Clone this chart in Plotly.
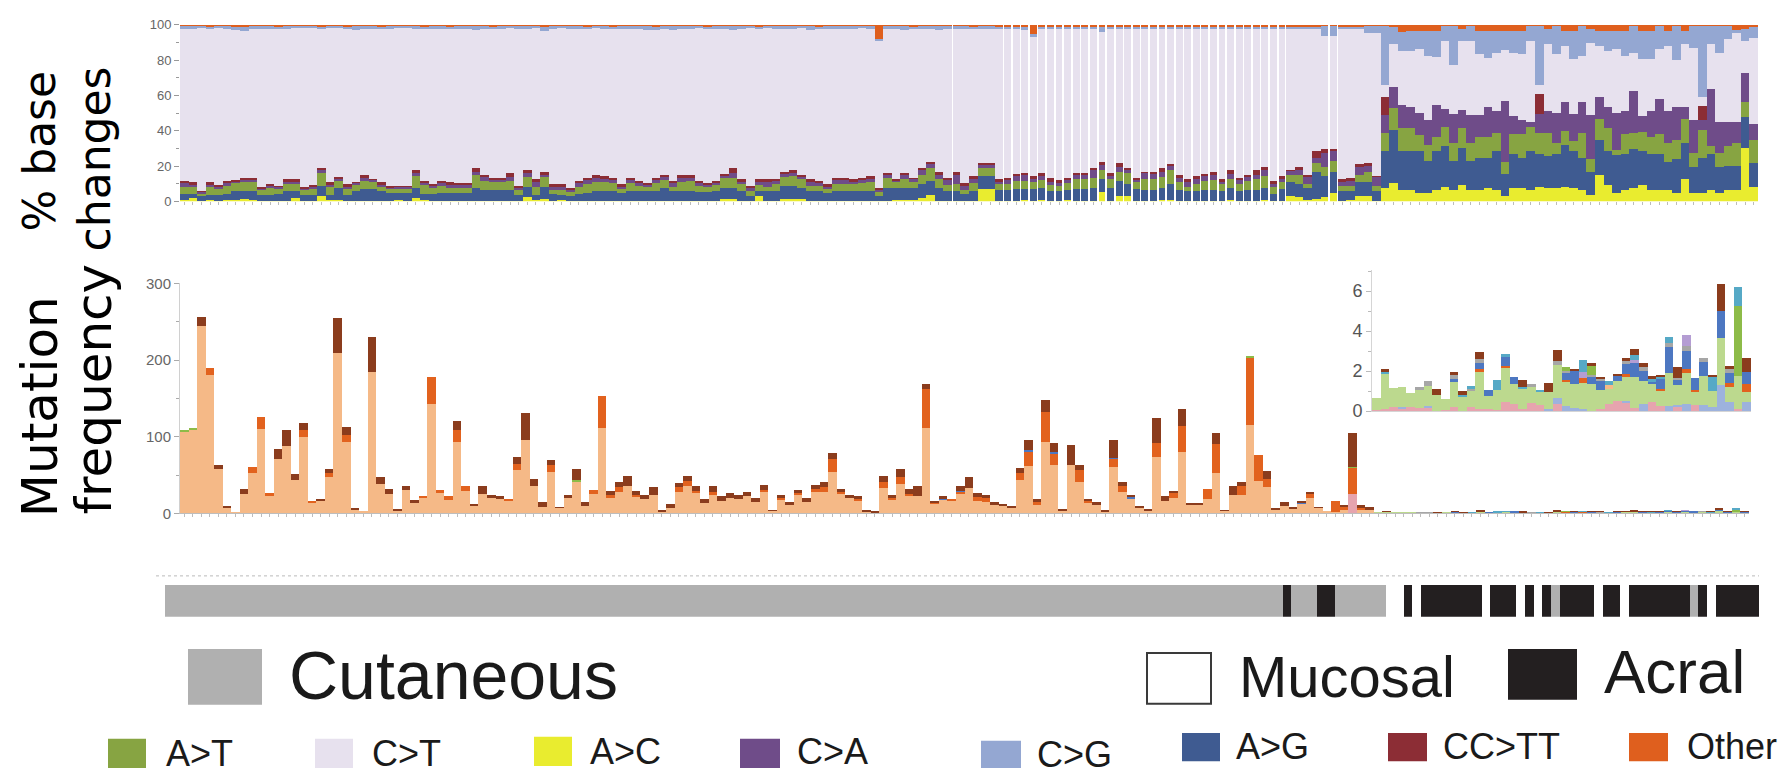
import plotly.graph_objects as go

W, H = 1789, 779
PAGE_OFF = 8          # default body margin of the html page that holds the figure
N_CUT, N_ACR = 140, 44
N = N_CUT + N_ACR

# ---------------- top panel: % base changes (per sample, 184 samples) ----------------
TOP_AC = [1.1,2.0,0.5,0.9,0.5,0.9,0.9,1.6,0.9,0.5,
          0.5,0.5,0.5,2.0,0.5,0.5,2.9,0.9,0.9,0.5,
          0.5,0.5,0.5,0.5,0.5,0.9,0.5,2.0,0.9,0.5,
          0.5,0.5,0.5,0.5,0.5,0.5,0.5,0.5,0.5,0.5,
          2.4,1.1,1.6,0.5,0.9,0.5,0.5,0.5,0.5,0.5,
          0.5,0.5,0.5,0.5,0.5,0.5,0.5,0.5,0.5,0.5,
          0.5,0.5,0.5,1.6,1.6,0.5,0.5,2.9,0.5,0.5,
          1.6,1.6,1.6,0.5,0.5,0.5,0.5,0.5,0.5,0.5,
          0.5,0.5,0.5,1.1,1.1,1.1,2.0,3.8,0.5,0.5,
          0.5,0.5,0.5,7.1,7.1,0.5,0.5,0.5,1.1,0.5,
          1.1,0.5,0.5,1.1,0.5,0.5,0.5,5.3,0.5,2.9,
          2.9,0.5,0.5,0.5,1.1,1.1,0.5,0.5,0.5,0.5,
          0.5,0.5,1.1,0.5,0.5,0.5,1.1,0.5,0.5,2.9,
          2.4,1.1,1.6,2.5,5.0,0.5,1.1,2.9,2.9,0.5,
          7.5,10.6,6.6,6.6,4.8,4.8,6.6,8.4,6.6,9.3,
          6.6,6.6,7.5,6.6,2.9,7.5,7.5,6.6,8.4,7.5,
          7.5,8.4,7.5,6.6,3.8,14.8,9.3,4.8,6.6,7.9,
          9.3,6.6,6.6,6.6,4.8,13.0,4.8,4.8,6.6,4.8,
          6.6,6.6,30.4,8.4]
TOP_AG = [3.1,2.2,2.4,2.9,3.3,3.3,4.8,4.1,5.1,3.3,
          3.3,3.7,5.5,4.0,3.3,3.3,6.1,2.9,6.6,3.3,
          5.2,6.6,6.6,5.2,4.3,3.9,4.3,5.9,3.3,3.7,
          4.3,4.3,4.3,4.3,7.4,6.1,6.1,6.1,6.1,3.3,
          6.0,2.7,6.8,3.7,2.9,2.4,3.7,4.3,5.5,5.5,
          5.2,4.3,5.5,5.2,5.2,5.5,7.4,5.2,5.5,5.5,
          4.8,4.8,5.2,6.3,6.3,5.2,2.4,2.8,5.2,5.2,
          7.4,7.4,6.3,5.5,5.5,4.3,5.2,5.2,5.5,5.5,
          5.5,2.4,7.4,6.8,6.8,6.8,7.7,7.7,7.4,5.5,
          5.5,3.7,5.5,7.4,7.4,6.1,6.1,6.6,6.0,6.6,
          6.4,5.2,5.2,5.5,6.6,6.6,7.0,7.3,7.4,8.6,
          6.8,6.6,6.1,6.1,6.8,8.6,6.1,5.2,5.5,6.1,
          6.1,5.2,6.8,5.5,6.1,6.1,6.8,3.7,6.6,7.9,
          7.3,6.8,15.4,12.0,12.0,5.5,4.9,7.9,7.9,5.5,
          21.1,29.9,22.0,22.0,23.8,18.3,22.0,22.9,16.5,21.1,
          16.5,18.3,17.4,22.0,12.9,19.2,17.4,22.0,18.3,18.3,
          19.2,23.8,21.1,18.3,13.2,20.2,19.3,21.4,20.1,21.6,
          19.3,20.1,20.1,15.6,19.2,20.2,14.6,20.1,20.1,14.6,
          13.7,13.7,17.4,13.4]
TOP_AT = [4.2,4.2,1.9,4.6,3.3,4.8,4.6,5.1,4.8,3.3,
          4.1,3.3,3.7,3.7,2.8,3.7,7.3,4.6,4.4,3.3,
          3.6,4.4,4.1,2.7,2.7,2.7,2.7,6.6,5.1,3.7,
          4.2,3.1,3.1,3.1,7.3,4.9,4.2,4.2,4.9,2.8,
          5.5,4.6,5.5,2.4,2.8,2.8,4.2,4.9,5.2,4.8,
          4.6,2.3,4.3,3.3,2.7,4.3,4.2,2.7,5.2,5.5,
          3.7,3.1,3.6,5.5,5.5,4.0,3.1,3.6,2.7,4.0,
          4.9,5.5,4.7,3.0,3.0,2.3,4.0,4.0,3.7,4.3,
          4.8,2.8,5.5,2.9,5.1,3.3,5.1,7.4,4.7,3.3,
          3.7,2.4,4.3,4.4,4.4,3.1,3.1,4.4,4.4,4.1,
          4.6,3.6,3.6,3.7,5.9,5.9,5.9,5.5,4.7,5.5,
          6.6,3.7,6.0,6.0,6.0,7.9,4.2,2.7,3.7,4.9,
          5.5,4.0,4.7,3.7,4.9,6.0,6.6,4.2,3.7,4.4,
          5.5,1.8,4.8,5.0,6.0,3.0,3.0,4.4,6.2,3.0,
          10.0,12.4,12.8,12.8,9.1,9.1,8.2,11.0,10.1,11.0,
          10.1,11.9,11.9,10.4,6.4,11.4,13.2,13.7,11.9,12.8,
          6.5,7.9,5.5,14.1,7.0,11.9,12.8,3.0,11.4,9.1,
          11.0,10.1,11.4,11.0,11.0,13.7,8.3,15.6,4.6,8.3,
          11.0,12.9,8.6,13.2]
TOP_CA = [2.2,1.3,0.9,0.9,1.3,1.3,1.2,1.3,1.5,0.4,
          1.1,0.9,1.5,1.8,0.9,0.9,1.8,1.3,1.1,1.5,
          1.3,2.1,1.1,1.3,0.7,0.9,1.1,1.8,1.5,1.1,
          1.6,1.4,1.4,1.4,1.8,2.4,1.5,1.5,2.4,1.3,
          2.2,2.4,1.3,1.8,1.8,0.9,1.9,2.4,2.4,2.2,
          1.8,1.3,1.8,1.6,1.3,1.8,1.8,1.9,2.4,2.1,
          1.6,1.3,1.3,1.4,2.9,1.8,1.9,2.2,2.8,2.4,
          1.9,1.8,1.3,2.2,1.6,1.3,2.4,2.4,1.5,1.8,
          2.2,0.9,1.8,1.3,2.2,1.8,2.8,2.3,2.6,2.8,
          5.5,2.4,2.7,1.8,1.8,1.8,2.4,3.3,3.3,1.8,
          2.4,1.9,1.0,1.8,2.2,2.2,4.2,2.6,1.9,2.4,
          1.3,1.8,3.7,3.2,3.1,2.4,2.8,2.8,3.3,3.0,
          2.7,1.5,3.2,2.9,2.4,2.6,3.1,1.3,2.2,2.4,
          2.4,4.2,3.1,8.0,6.0,2.5,2.5,4.2,3.0,4.9,
          10.7,11.8,13.4,11.9,12.3,13.8,18.0,10.0,16.4,10.4,
          16.1,12.5,16.5,12.1,34.8,10.6,7.9,2.8,11.0,12.5,
          16.8,16.3,15.5,17.4,25.3,12.3,11.9,20.8,13.0,24.2,
          9.1,14.3,19.8,18.3,18.3,6.4,18.3,5.5,32.4,17.4,
          13.8,11.9,16.5,9.1]
TOP_CCTT = [1.3,1.1,0.5,1.5,0.8,1.4,0.8,1.5,1.3,0.6,
            0.9,0.6,1.4,1.1,0.7,0.8,0.9,1.1,0.7,1.1,
            0.6,1.6,0.7,1.1,0.6,0.6,0.4,1.6,1.1,0.9,
            0.9,1.5,1.3,1.3,1.9,1.3,1.3,1.3,2.2,1.1,
            1.8,1.8,1.8,1.5,1.5,1.3,1.4,1.3,1.6,1.5,
            1.5,1.3,1.5,1.1,0.9,1.5,1.3,1.4,1.6,1.6,
            1.1,0.9,1.1,1.0,2.6,1.1,1.1,1.1,1.4,0.5,
            1.2,1.8,1.3,1.4,1.1,1.3,1.5,1.5,1.3,1.5,
            1.5,0.9,1.1,0.9,1.1,0.6,1.3,1.3,1.8,1.5,
            1.8,1.3,1.5,1.1,1.1,1.1,1.5,1.0,1.5,1.5,
            1.8,2.4,1.8,1.5,1.1,1.1,1.3,1.8,1.8,2.4,
            1.3,1.0,0.7,1.2,1.9,1.2,1.6,1.4,1.5,1.3,
            2.2,1.4,2.3,1.0,1.3,2.9,1.8,1.8,1.5,0.5,
            1.8,1.3,3.7,2.5,0.5,1.1,2.1,1.8,1.8,0.6,
            9.9,0,0,0,0,0,0,0,0,0,
            0,0,0,0,0,0,0,0,11.4,0,
            0,0,0,0,0,0,0,0,0,0,
            0,0,0,0,0,0,0,8.0,0,0,
            0,0,0,0]
TOP_CG = [1.5,1.5,1.0,1.0,1.0,1.5,2.0,2.5,1.5,1.5,
          1.5,1.5,1.5,1.0,1.0,1.0,1.5,1.0,1.0,1.5,
          2.5,2.0,1.5,1.5,1.5,1.0,1.0,1.5,1.5,1.5,
          1.5,1.5,1.5,2.0,2.5,1.5,1.5,1.5,1.0,1.5,
          1.5,1.0,2.5,1.5,1.0,2.0,1.5,1.5,1.0,1.5,
          1.5,1.5,2.0,1.5,2.5,2.0,1.5,2.5,1.5,1.5,
          1.0,1.5,2.0,1.5,2.5,1.5,1.0,1.5,1.0,1.5,
          1.5,1.5,1.0,2.5,1.5,2.0,1.5,1.5,1.5,1.0,
          1.5,1.0,2.0,1.5,2.5,1.5,1.5,2.0,2.5,1.5,
          1.5,1.5,1.0,1.5,2.0,1.5,1.5,1.0,2.0,2.0,
          1.5,1.5,1.5,1.5,1.5,1.5,1.5,3.0,1.5,1.5,
          1.5,1.5,1.5,1.5,1.5,1.0,1.5,1.5,1.5,1.0,
          1.5,1.5,1.5,1.5,1.5,1.5,1.5,1.0,1.0,1.0,
          1.5,1.5,1.5,6.0,6.0,1.0,1.0,1.5,4.0,4.0,
          33.4,10.0,10.7,11.2,10.2,13.9,14.8,8.7,22.0,7.2,
          8.7,13.0,15.4,12.1,10.6,12.1,13.0,8.7,33.4,9.0,
          16.0,8.5,15.7,16.9,8.1,8.5,11.2,10.2,13.9,15.1,
          15.7,15.7,13.2,8.5,19.6,7.5,12.3,40.3,10.5,15.1,
          7.7,1.6,7.2,6.3]
TOP_OTHER = [0.5,0.5,0.5,0.8,0.5,0.5,0.8,0.8,0.5,0.5,
             0.5,0.8,0.5,0.5,0.5,0.5,0.8,0.5,0.5,0.8,
             0.5,0.5,0.5,0.8,0.5,0.5,0.5,0.5,0.8,0.5,
             0.5,0.8,0.5,0.5,0.5,0.5,0.8,0.5,0.5,0.5,
             0.5,0.5,0.8,0.5,0.5,0.5,0.5,0.8,0.5,0.5,
             0.8,0.5,0.5,0.5,0.5,0.8,0.5,0.5,0.5,0.5,
             0.5,0.8,0.5,0.5,0.5,0.5,0.5,0.8,0.5,0.5,
             0.5,0.5,0.5,0.5,0.8,0.5,0.5,0.5,0.5,0.5,
             0.5,8.0,0.5,0.5,0.5,0.8,0.5,0.5,0.5,0.5,
             0.5,0.5,0.8,0.5,0.5,0.8,0.8,0.8,0.8,5.0,
             0.8,0.8,0.8,0.8,0.8,0.8,0.8,0.8,0.8,0.8,
             0.8,0.8,0.8,0.8,0.8,0.8,0.8,0.8,0.8,0.8,
             0.8,0.8,0.8,0.8,0.8,0.8,0.8,0.8,0.8,0.8,
             1.0,1.0,1.0,0.5,0.5,1.0,1.0,1.0,0.5,0.5,
             0.5,1.0,4.0,3.5,3.5,3.5,3.5,0.5,0.5,2.0,
             0.5,3.5,3.5,3.5,3.5,3.5,3.5,0.5,0.5,2.0,
             0.5,3.5,3.5,0.5,2.0,3.5,3.5,3.5,3.5,0.5,
             3.5,3.5,0.5,3.5,0.5,3.5,0.5,0.5,0.5,0.5,
             0.5,3.0,2.0,1.0]
# samples whose bars are drawn separated by thin white gaps in the original figure
GAP_SAMPLES = [90] + list(range(96, 129)) + [133, 134]

# ---------------- bottom panel: mutation frequency, cutaneous-like samples (140) ----------------
FREQ_PEACH = [107,108,244,180,57,8,2,25,52,110,
              22,70,88,43,99,14,17,47,209,93,
              5,3,184,38,25,4,30,13,20,142,
              26,17,93,29,9,25,20,18,16,56,
              96,35,8,54,7,20,41,10,25,111,
              20,28,35,21,18,24,2,7,27,35,
              26,13,24,16,20,19,22,14,27,3,
              17,11,24,14,27,27,54,25,20,16,
              2,1,33,17,38,22,22,111,13,18,
              16,25,33,16,14,11,10,7,43,62,
              11,93,63,4,63,41,13,11,2,60,
              27,19,8,4,73,16,20,80,11,11,
              18,52,3,24,24,115,42,34,5,9,
              5,13,20,7,3,2,4,0,4,4]
FREQ_ORANGE = [0,0,0,9,0,0,0,0,8,16,
               4,0,0,0,9,2,0,6,0,9,
               0,0,0,0,0,0,0,0,3,36,
               4,5,15,7,0,0,0,0,3,8,
               0,0,0,9,0,0,0,0,5,42,
               4,6,0,3,0,0,0,0,7,7,
               3,0,4,0,0,0,0,0,3,0,
               3,0,2,0,5,7,16,3,0,2,
               0,0,8,3,9,3,0,51,1,0,
               3,3,0,5,6,0,0,0,10,19,
               3,39,15,0,0,15,3,0,0,11,
               8,0,0,0,18,0,6,33,0,0,
               14,38,0,0,12,88,34,11,0,0,
               0,0,6,0,0,14,5,34,3,0]
FREQ_BROWN = [0,0,12,0,6,2,0,6,0,0,
              0,14,20,8,10,0,2,4,45,10,
              1,0,45,9,6,1,5,4,0,0,
              0,0,12,0,3,11,4,4,0,9,
              35,10,6,6,1,4,14,4,0,0,
              5,7,14,5,6,10,2,5,5,7,
              6,5,7,7,6,5,6,6,7,1,
              4,3,4,6,5,6,9,4,4,5,
              1,1,7,4,10,6,14,6,2,4,
              0,6,14,5,4,4,2,3,6,13,
              4,15,11,1,26,7,2,4,1,24,
              6,3,2,1,33,7,3,23,1,2,
              0,15,1,12,5,0,0,10,2,5,
              3,2,2,1,0,0,2,44,4,4]
FREQ_BLUE_SPARSE = {89: 1, 91: 1, 99: 2, 102: 2, 109: 1, 111: 2, 131: 1}
FREQ_GREEN_SPARSE = {0: 2, 1: 3, 46: 2, 125: 2, 137: 1}
FREQ_PINK_SPARSE = {137: 25}

# ---------------- inset: mutation frequency of the 44 acral / mucosal-like samples ----------------
PINK_I = [0.05,0.1,0.2,0.15,0.2,0.15,0.2,0,0.05,0.2,
          0,0.2,0.1,0.1,0.05,0.45,0.35,0.1,0.4,0.3,
          0,0.35,0,0,0,0,0.1,0.35,0.5,0.4,
          0.15,0,0.45,0.25,0,0.2,0,0.3,0,0,
          0,0,0.1,0]
LBLUE_I = [0,0,0,0.05,0,0,0.05,0,0,0,
           0,0,0,0,0,0,0,0,0,0,
           0.1,0.3,0.25,0.15,0.1,0,0,0,0,0.1,
           0,0.35,0,0,0.25,0.1,0.35,0,0.3,0.2,
           1.3,0.45,0,0.45]
LGREEN_I = [0.6,1.75,0.95,1.0,0.7,0.9,1.0,0.8,0.55,1.25,
            0.75,0.85,1.85,0.65,1.0,1.75,1.0,1.0,0.8,0.65,
            0.85,1.65,1.2,1.2,1.3,1.35,0.95,0.75,1.0,1.2,
            1.55,1.15,0.9,0.8,1.65,1.0,1.55,0.7,1.45,0.8,
            2.35,0.75,1.65,0.5]
PEACH_I = [0,0,0,0,0,0,0,0,0,0,
           0,0,0,0,0,0,0,0,0,0,
           0,0,0,0,0,0,0,0.2,0,0,
           0,0,0,0,0,0,0,0,0,0,
           0,0,0,0]
ORANGE_I = [0,0,0,0,0,0,0,0,0,0,
            0,0,0.15,0,0,0.08,0,0,0,0,
            0,0,0.1,0,0.25,0,0,0,0,0.15,
            0,0,0,0.05,0,0,0.2,0.05,0,0,
            0,0.2,0,0.4]
BLUE_I = [0,0,0,0,0,0,0,0,0,0.15,
          0,0,0.3,0.3,0,0.42,0.35,0,0,0,
          0,0,0.35,0.65,0,0.35,0.45,0,0.25,0.5,
          0.7,0.5,0.1,0.5,1.3,0.3,0.9,0.6,0.7,0,
          1.35,0.5,0,0.6]
GREY_I = [0,0,0,0,0,0.15,0.25,0,0,0.2,
          0,0.05,0.2,0,0,0,0,0,0.15,0,
          0,0.2,0.1,0,0,0.1,0.15,0,0,0.15,
          0,0.2,0,0,0.2,0.05,0.25,0,0.2,0,
          0,0.2,0,0]
LAV_I = [0,0,0,0,0,0,0,0,0,0,
         0,0,0,0,0,0,0,0,0,0,
         0,0,0,0,0.3,0,0,0,0,0,
         0.15,0,0,0,0,0,0.55,0,0,0,
         0,0,0,0]
DGREEN_I = [0,0,0,0,0,0,0,0,0,0,
            0,0,0,0,0,0,0,0,0,0,
            0,0,0.2,0,0,0.45,0,0,0,0,
            0,0,0,0,0,0,0,0,0,0,
            0,0,3.5,0]
TEAL_I = [0,0.1,0,0,0,0,0,0,0,0,
          0.05,0.15,0,0,0.5,0.15,0,0.1,0,0.1,
          0,0,0,0,0.6,0,0,0.2,0,0,
          0.25,0,0.15,0.1,0.3,0,0,0,0,0.7,
          0,0,0.95,0]
BROWN_I = [0,0.15,0,0,0,0,0,0.3,0,0.15,
           0.2,0,0.35,0,0,0,0,0.35,0,0,
           0.45,0.55,0,0.1,0,0.15,0.05,0,0.1,0.15,
           0.3,0.2,0.15,0.1,0,0.55,0,0,0,0.1,
           1.35,0.15,0,0.7]

# ---------------- subtype annotation bar (runs of samples) ----------------
SUBTYPE_RUNS = [("Cutaneous",129),("Acral",1),("Cutaneous",3),("Acral",2),("Cutaneous",6),
                ("Mucosal",2),("Acral",1),("Mucosal",1),("Acral",7),("Mucosal",1),("Acral",3),
                ("Mucosal",1),("Acral",1),("Mucosal",1),("Acral",1),("Cutaneous",1),("Acral",4),
                ("Mucosal",1),("Acral",2),("Mucosal",1),("Acral",7),("Cutaneous",1),("Acral",1),
                ("Mucosal",1),("Acral",5)]

for arr in (TOP_AC, TOP_AG, TOP_AT, TOP_CA, TOP_CCTT, TOP_CG, TOP_OTHER):
    assert len(arr) == N, len(arr)
for arr in (FREQ_PEACH, FREQ_ORANGE, FREQ_BROWN):
    assert len(arr) == N_CUT, len(arr)
for arr in (PINK_I, LBLUE_I, LGREEN_I, PEACH_I, ORANGE_I, BLUE_I, GREY_I, LAV_I, DGREEN_I, TEAL_I, BROWN_I):
    assert len(arr) == N_ACR, len(arr)

TOP_CT = [round(100 - (a + b + c + d + e + f + g), 2) for a, b, c, d, e, f, g in
          zip(TOP_AC, TOP_AG, TOP_AT, TOP_CA, TOP_CCTT, TOP_CG, TOP_OTHER)]

COL = {"A>T": "#87A442", "C>T": "#E7E1EE", "A>C": "#E9EC2F", "C>A": "#6F4C89",
       "C>G": "#94A7D2", "A>G": "#3F5B91", "CC>TT": "#8C2D35", "Other": "#DF5F1E"}

FW, FH = W - PAGE_OFF, H - PAGE_OFF   # figure size so that it exactly fills the window

def px(x):
    return (x - PAGE_OFF) / FW

def py(y):
    return 1 - (y - PAGE_OFF) / FH

fig = go.Figure()
samples = list(range(N))
widths = [0.8 if i in GAP_SAMPLES else 1.0 for i in samples]

top_stack = [("A>C", TOP_AC), ("A>G", TOP_AG), ("A>T", TOP_AT), ("C>A", TOP_CA),
             ("CC>TT", TOP_CCTT), ("C>T", TOP_CT), ("C>G", TOP_CG), ("Other", TOP_OTHER)]
for name, vals in top_stack:
    fig.add_trace(go.Bar(x=samples, y=vals, width=widths, name=name,
                         marker=dict(color=COL[name], line=dict(width=0)),
                         xaxis="x", yaxis="y", showlegend=False))

def sparse(d, n):
    return [d.get(i, 0) for i in range(n)]

zeros_cut = [0] * N_CUT
bottom_stack = [
    ("pink", sparse(FREQ_PINK_SPARSE, N_CUT), PINK_I, "#E6A4AE"),
    ("lightblue", zeros_cut, LBLUE_I, "#9DB2DD"),
    ("lightgreen", zeros_cut, LGREEN_I, "#BCD98E"),
    ("peach", FREQ_PEACH, PEACH_I, "#F5B987"),
    ("orange", FREQ_ORANGE, ORANGE_I, "#E2621E"),
    ("blue", sparse(FREQ_BLUE_SPARSE, N_CUT), BLUE_I, "#4D77C1"),
    ("grey", zeros_cut, GREY_I, "#A6A6A6"),
    ("lavender", zeros_cut, LAV_I, "#B49DD3"),
    ("green", sparse(FREQ_GREEN_SPARSE, N_CUT), DGREEN_I, "#8DBB48"),
    ("teal", zeros_cut, TEAL_I, "#56A9C6"),
    ("brown", FREQ_BROWN, BROWN_I, "#8B3C1D"),
]
for name, cut, acr, color in bottom_stack:
    fig.add_trace(go.Bar(x=samples, y=list(cut) + list(acr), name=name,
                         marker=dict(color=color, line=dict(width=0)),
                         xaxis="x2", yaxis="y2", showlegend=False))
    fig.add_trace(go.Bar(x=list(range(N_ACR)), y=acr, name=name,
                         marker=dict(color=color, line=dict(width=0)),
                         xaxis="x3", yaxis="y3", showlegend=False))

SUB_COL = {"Cutaneous": "#B0B0B0", "Acral": "#231F20", "Mucosal": "#FFFFFF"}
sub_labels = []
for lab, cnt in SUBTYPE_RUNS:
    sub_labels += [lab] * cnt
fig.add_trace(go.Bar(x=samples, y=[1] * N, width=1.0,
                     marker=dict(color=[SUB_COL[s] for s in sub_labels], line=dict(width=0)),
                     xaxis="x4", yaxis="y4", showlegend=False))

tickfont = dict(family="Liberation Sans, Arial", size=13, color="#666666")
xbase = dict(range=[-0.5, N - 0.5], showticklabels=False, showgrid=False, zeroline=False,
             tickmode="array", tickvals=samples, ticks="outside", ticklen=3,
             tickcolor="#bdbdbd", tickwidth=1, fixedrange=True)

fig.update_layout(
    width=FW, height=FH, margin=dict(l=0, r=0, t=0, b=0),
    paper_bgcolor="white", plot_bgcolor="rgba(0,0,0,0)",
    barmode="stack", bargap=0, showlegend=False,
    xaxis=dict(domain=[px(180), px(1758)], anchor="y", showline=False, **xbase),
    yaxis=dict(domain=[py(197), py(16)], range=[0, 100], anchor="x",
               tickmode="linear", tick0=0, dtick=20, ticks="outside", ticklen=5,
               tickcolor="#999999", tickfont=tickfont, showgrid=False, zeroline=False,
               showline=False, minor=dict(ticks="outside", ticklen=3, dtick=10, tick0=0,
                                          tickcolor="#999999"), fixedrange=True),
    xaxis2=dict(domain=[px(180), px(1749)], anchor="y2", showline=True, linecolor="#bdbdbd",
                **xbase),
    yaxis2=dict(domain=[py(517), py(281)], range=[0, 300], anchor="x2",
                tickmode="linear", tick0=0, dtick=100, ticks="outside", ticklen=5,
                tickcolor="#aaaaaa", tickfont=dict(family="Liberation Sans, Arial", size=15, color="#666666"),
                showgrid=False, zeroline=False, showline=True, linecolor="#d0d0d0",
                minor=dict(ticks="outside", ticklen=3, dtick=50, tick0=0, tickcolor="#aaaaaa"),
                fixedrange=True),
    xaxis3=dict(domain=[px(1372), px(1751)], anchor="y3", range=[-0.5, N_ACR - 0.5],
                showticklabels=False, showgrid=False, zeroline=False, showline=True,
                linecolor="#d5d5d5", ticks="", fixedrange=True),
    yaxis3=dict(domain=[py(412), py(267)], range=[0, 7.07], anchor="x3",
                tickmode="linear", tick0=0, dtick=2, ticks="outside", ticklen=5,
                tickcolor="#bbbbbb", tickfont=dict(family="Liberation Sans, Arial", size=18, color="#555555"),
                showgrid=False, zeroline=False, showline=True, linecolor="#d5d5d5",
                minor=dict(ticks="outside", ticklen=3, dtick=1, tick0=0, tickcolor="#bbbbbb"),
                fixedrange=True),
    xaxis4=dict(domain=[px(165), px(1759)], anchor="y4", range=[-0.5, N - 0.5],
                visible=False, fixedrange=True),
    yaxis4=dict(domain=[py(623), py(590)], range=[0, 1], anchor="x4", visible=False,
                fixedrange=True),
)

# dotted separator above the subtype bar
fig.add_shape(type="line", xref="paper", yref="paper", x0=px(156), x1=px(1759),
              y0=py(581), y1=py(581), line=dict(color="#bbbbbb", width=1, dash="dot"))

ann = []
title_font = dict(family="DejaVu Sans", color="black")
ann.append(dict(text="% base", x=px(40), y=py(146), textangle=-90, font=dict(size=44, **title_font)))
ann.append(dict(text="changes", x=px(94), y=py(154), textangle=-90, font=dict(size=44, **title_font)))
ann.append(dict(text="Mutation", x=px(40), y=py(408), textangle=-90, font=dict(size=50, **title_font)))
ann.append(dict(text="frequency", x=px(94), y=py(390), textangle=-90, font=dict(size=50, **title_font)))
for a in ann:
    a.update(xref="paper", yref="paper", showarrow=False, xanchor="center", yanchor="middle")
    fig.add_annotation(**a)

leg_font = "Liberation Sans, Arial, Helvetica"
# subtype legend: label, square x0, x1, y0, y1, fill, outline, text x, text y, text size
sub_leg = [("Cutaneous", 189, 261, 657, 712, "#B0B0B0", "#B0B0B0", 287, 683, 68),
           ("Mucosal", 1147, 1211, 660, 712, "#FFFFFF", "#3a3a3a", 1237, 684, 58),
           ("Acral", 1509, 1576, 657, 707, "#231F20", "#231F20", 1602, 679, 62)]
for lab, x0, x1, y0, y1, fc, lc, tx, ty, fs in sub_leg:
    fig.add_shape(type="rect", xref="paper", yref="paper", x0=px(x0), x1=px(x1),
                  y0=py(y1), y1=py(y0), fillcolor=fc, line=dict(color=lc, width=2))
    fig.add_annotation(text=lab, xref="paper", yref="paper", x=px(tx), y=py(ty),
                       xanchor="left", yanchor="middle", showarrow=False,
                       font=dict(family=leg_font, size=fs, color="#1a1a1a"))

# base-change legend
base_leg = [("A>T", 108, 146, 748, 778, 164, 763), ("C>T", 315, 353, 748, 778, 370, 763),
            ("A>C", 534, 572, 746, 776, 588, 761), ("C>A", 740, 780, 748, 778, 795, 761),
            ("C>G", 981, 1021, 750, 778, 1035, 764), ("A>G", 1182, 1220, 742, 771, 1234, 756),
            ("CC>TT", 1388, 1427, 742, 771, 1441, 756), ("Other", 1629, 1668, 742, 771, 1685, 756)]
for lab, x0, x1, y0, y1, tx, ty in base_leg:
    fig.add_shape(type="rect", xref="paper", yref="paper", x0=px(x0), x1=px(x1),
                  y0=py(y1), y1=py(y0), fillcolor=COL[lab], line=dict(width=0))
    fig.add_annotation(text=lab.replace(">", "&gt;"), xref="paper", yref="paper", x=px(tx), y=py(ty),
                       xanchor="left", yanchor="middle", showarrow=False,
                       font=dict(family=leg_font, size=36, color="#1a1a1a"))

fig.write_html("out.html")
